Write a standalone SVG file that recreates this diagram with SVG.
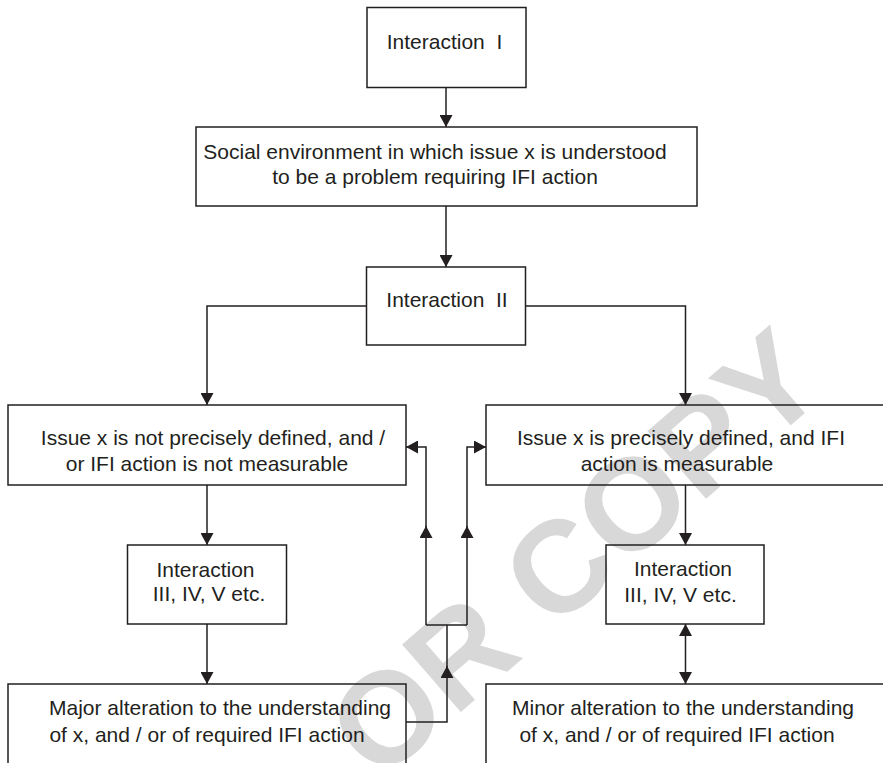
<svg xmlns="http://www.w3.org/2000/svg" width="883" height="763" viewBox="0 0 883 763">
<style>
.box{fill:none;stroke:#231f20;stroke-width:1.5}
.ln{fill:none;stroke:#231f20;stroke-width:1.5}
.t{font-family:"Liberation Sans",Arial,sans-serif;font-size:21px;fill:#231f20;text-anchor:middle;white-space:pre}
.wm{font-family:"Liberation Sans",Arial,sans-serif;font-weight:bold;font-size:130px;fill:#d8d8d8}
</style>
<defs>
<marker id="ah" markerUnits="userSpaceOnUse" markerWidth="13" markerHeight="13" refX="12" refY="6.5" orient="auto-start-reverse">
<path d="M0,0 L12,6.5 L0,13 Z" fill="#231f20"/>
</marker>
</defs>
<rect width="883" height="763" fill="#fff"/>
<text class="wm" transform="translate(378,784) rotate(-41)">OR COPY</text>
<g id="n1"><rect class="box" x="367" y="7.5" width="159" height="80"/><text class="t" x="444.5" y="49" xml:space="preserve">Interaction  I</text></g>
<g id="n2"><rect class="box" x="196" y="127" width="501" height="79"/><text class="t" x="435" y="159">Social environment in which issue x is understood</text><text class="t" x="435" y="183.5">to be a problem requiring IFI action</text></g>
<g id="n3"><rect class="box" x="366.5" y="267" width="159" height="78"/><text class="t" x="447" y="307" xml:space="preserve">Interaction  II</text></g>
<g id="n4"><rect class="box" x="8" y="405" width="398" height="80"/><text class="t" x="213" y="445">Issue x is not precisely defined, and /</text><text class="t" x="207" y="471">or IFI action is not measurable</text></g>
<g id="n5"><path class="box" d="M890,405 H486 V485 H890"/><text class="t" x="681" y="445">Issue x is precisely defined, and IFI</text><text class="t" x="677" y="471">action is measurable</text></g>
<g id="n6"><rect class="box" x="127.5" y="545" width="159" height="79"/><text class="t" x="205.5" y="576.5">Interaction</text><text class="t" x="209" y="601">III, IV, V etc.</text></g>
<g id="n7"><rect class="box" x="606" y="545" width="158" height="79"/><text class="t" x="683" y="575.5">Interaction</text><text class="t" x="680.5" y="601.5">III, IV, V etc.</text></g>
<g id="n8"><path class="box" d="M8,775 V684 H406 V775"/><text class="t" x="220" y="715">Major alteration to the understanding</text><text class="t" x="207" y="741.5">of x, and / or of required IFI action</text></g>
<g id="n9"><path class="box" d="M486,775 V684 H890"/><text class="t" x="683" y="715">Minor alteration to the understanding</text><text class="t" x="677" y="741.5">of x, and / or of required IFI action</text></g>
<g id="connectors">
<path class="ln" d="M446,87.5 V127" marker-end="url(#ah)"/>
<path class="ln" d="M446,206 V267" marker-end="url(#ah)"/>
<path class="ln" d="M366.5,306 H207 V405" marker-end="url(#ah)"/>
<path class="ln" d="M525.5,306 H685.5 V405" marker-end="url(#ah)"/>
<path class="ln" d="M207,485 V545" marker-end="url(#ah)"/>
<path class="ln" d="M207,624 V684" marker-end="url(#ah)"/>
<path class="ln" d="M685.5,485 V545" marker-end="url(#ah)"/>
<path class="ln" d="M685.5,624 V684" marker-start="url(#ah)" marker-end="url(#ah)"/>
<path class="ln" d="M406,722 H447 V666" marker-end="url(#ah)"/>
<path class="ln" d="M447,667 V625 M426,625 H467"/>
<path class="ln" d="M426,625 V526" marker-end="url(#ah)"/>
<path class="ln" d="M467,625 V526" marker-end="url(#ah)"/>
<path class="ln" d="M426,527 V447 H406" marker-end="url(#ah)"/>
<path class="ln" d="M467,527 V447 H486" marker-end="url(#ah)"/>
</g>
</svg>
